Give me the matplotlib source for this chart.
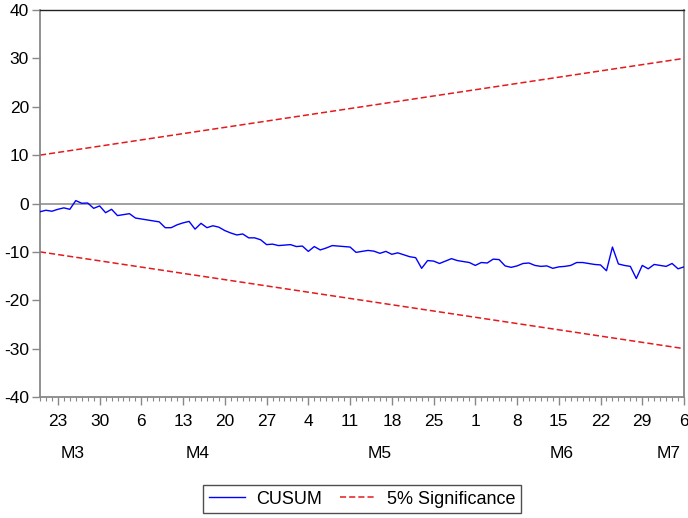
import matplotlib
matplotlib.use("Agg")
import matplotlib.pyplot as plt
import matplotlib.dates as mdates
import numpy as np
import pandas as pd

plt.rcParams['font.family'] = ['Liberation Sans', 'DejaVu Sans']

# daily observations, 20 Mar - 6 Jul
dates = pd.date_range("2020-03-20", "2020-07-06", freq="D")

cusum = [
    -1.7, -1.4, -1.6, -1.2, -0.9, -1.2, 0.6, 0.05, 0.1, -1.0,
    -0.5, -1.9, -1.2, -2.5, -2.3, -2.1, -3.0, -3.2, -3.4, -3.6,
    -3.8, -5.0, -5.0, -4.4, -4.0, -3.7, -5.3, -4.1, -5.0, -4.6,
    -4.9, -5.6, -6.1, -6.5, -6.3, -7.1, -7.1, -7.5, -8.5, -8.4,
    -8.7, -8.6, -8.5, -8.9, -8.8, -9.9, -8.9, -9.6, -9.2, -8.7,
    -8.8, -8.9, -9.0, -10.1, -9.9, -9.7, -9.85, -10.3, -9.9, -10.5,
    -10.2, -10.6, -11.0, -11.2, -13.4, -11.8, -11.9, -12.4, -11.9, -11.4,
    -11.8, -12.0, -12.2, -12.8, -12.2, -12.3, -11.5, -11.6, -12.9, -13.2,
    -12.9, -12.4, -12.3, -12.8, -13.0, -12.9, -13.4, -13.1, -13.0, -12.8,
    -12.2, -12.2, -12.4, -12.6, -12.7, -13.9, -9.0, -12.5, -12.8, -13.0,
    -15.5, -12.8, -13.5, -12.6, -12.8, -13.0, -12.4, -13.5, -13.1,
]

# 5% significance bounds (straight lines between first and last obs)
upper_ends = [10, 30]
lower_ends = [-10, -30]

yticks = [-40, -30, -20, -10, 0, 10, 20, 30, 40]
tick_days = ["2020-03-23", "2020-03-30", "2020-04-06", "2020-04-13", "2020-04-20",
             "2020-04-27", "2020-05-04", "2020-05-11", "2020-05-18", "2020-05-25",
             "2020-06-01", "2020-06-08", "2020-06-15", "2020-06-22", "2020-06-29",
             "2020-07-06"]
month_labels = ["M3", "M4", "M5", "M6", "M7"]

fig = plt.figure(figsize=(6.88, 5.18), dpi=100)
ax = fig.add_axes([40 / 688, 121 / 518, 644 / 688, 387 / 518])

ax.axhline(0, color="#999999", lw=1.3, zorder=1)
ax.plot(dates, cusum, color="#0000ff", lw=1.0, label="CUSUM", zorder=3)
ax.plot([dates[0], dates[-1]], upper_ends, color="#e41a1c", lw=1.1,
        dashes=(4, 2), label="5% Significance", zorder=2)
ax.plot([dates[0], dates[-1]], lower_ends, color="#e41a1c", lw=1.1,
        dashes=(4, 2), zorder=2)

ax.set_xlim(dates[0], dates[-1])
ax.set_ylim(-40, 40)
ax.set_yticks(yticks)
ax.set_yticklabels([str(v) for v in yticks], fontsize=12.5)

tick_dt = pd.to_datetime(tick_days)
ax.set_xticks(tick_dt)
ax.set_xticklabels([str(d.day) for d in tick_dt], fontsize=12.5)
ax.xaxis.set_minor_locator(mdates.DayLocator())

ax.tick_params(axis="y", direction="out", length=6, width=1, color="#888888", pad=2)
ax.tick_params(axis="x", which="major", direction="out", length=6, width=1,
               color="#888888", pad=6)
ax.tick_params(axis="x", which="minor", direction="out", length=3, width=0.8,
               color="#888888")

for side in ["left", "bottom", "right"]:
    ax.spines[side].set_color("#888888")
    ax.spines[side].set_linewidth(1.3)
ax.spines["top"].set_color("#222222")
ax.spines["top"].set_linewidth(1.0)

# month labels centred on each month's observations
months = pd.Series(dates).groupby(pd.Series(dates).dt.month)
for lab, (m, grp) in zip(month_labels, months):
    mid = grp.iloc[0] + (grp.iloc[-1] - grp.iloc[0]) / 2
    ax.text(mid, -0.145, lab, transform=ax.get_xaxis_transform(),
            ha="center", va="center", fontsize=12.5)

leg = fig.legend(loc="center", bbox_to_anchor=(362 / 688, 19 / 518), ncol=2,
                 fontsize=13, frameon=True, fancybox=False, handlelength=2.0,
                 handletextpad=0.6, columnspacing=1.0, borderpad=0.3)
leg.get_frame().set_edgecolor("#222222")
leg.get_frame().set_linewidth(1.0)

fig.savefig("out.png", dpi=100)
